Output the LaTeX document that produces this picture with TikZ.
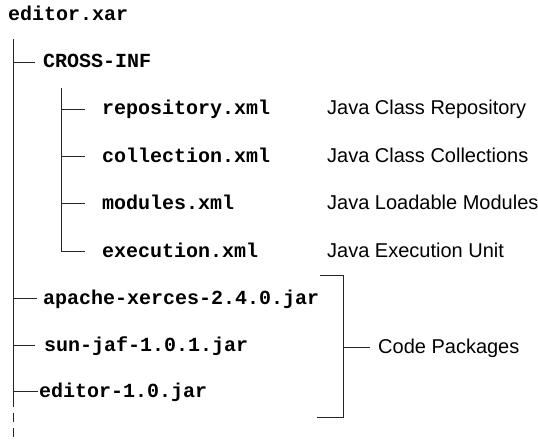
\documentclass[tikz,border=0pt]{standalone}
\usepackage{fontspec}
\setmainfont{Liberation Sans}
\setmonofont{Liberation Mono}
\begin{document}
\begin{tikzpicture}[x=1pt,y=-1pt,
  file/.style={anchor=base west,inner sep=0pt,font=\fontsize{20}{24}\selectfont\ttfamily\bfseries},
  note/.style={anchor=base west,inner sep=0pt,font=\fontsize{20}{24}\selectfont},
  tree/.style={draw=black!85,line width=0.9pt}]
\useasboundingbox (0,0) rectangle (538,441);

% archive and its entries (baseline = row + 6)
\node[file] (xar)   at (8,21)    {editor.xar};
\node[file] (cross) at (43,68)   {CROSS-INF};
\node[file] (repo)  at (102,115) {repository.xml};
\node[file] (coll)  at (102,162) {collection.xml};
\node[file] (mods)  at (102,209) {modules.xml};
\node[file] (exec)  at (102,257) {execution.xml};
\node[file] (xerc)  at (43,304)  {apache-xerces-2.4.0.jar};
\node[file] (jaf)   at (44,351)  {sun-jaf-1.0.1.jar};
\node[file] (ejar)  at (39,397)  {editor-1.0.jar};

% descriptions
\node[note] (drepo) at (327,115) {Java Class Repository};
\node[note] (dcoll) at (327,162) {Java Class Collections};
\node[note] (dmods) at (327,209) {Java Loadable Modules};
\node[note] (dexec) at (327,257) {Java Execution Unit};
\node[note] (dcode) at (378,353) {Code Packages};

% trunk of the archive
\coordinate (t0) at (13,39);
\coordinate (t1) at (13,400);
\coordinate (t2) at (13,441);
\draw[tree] (t0) -- (t1);
\draw[tree,dash pattern=on 9pt off 6pt] ([yshift=2pt]t1) -- (t2);

\coordinate (bc) at (13,62);
\coordinate (bx) at (13,298);
\coordinate (bj) at (13,345);
\coordinate (be) at (13,391);
\draw[tree] (bc) -- (35,62);
\draw[tree] (bx) -- (37,298);
\draw[tree] (bj) -- (35,345);
\draw[tree] (be) -- (38,391);

% CROSS-INF subtree
\coordinate (s0) at (61,88);
\coordinate (sr) at (61,109);
\coordinate (sc) at (61,156);
\coordinate (sm) at (61,203);
\coordinate (se) at (61,251);
\draw[tree] (s0) -- (se) -- (85,251);
\draw[tree] (sr) -- (85,109);
\draw[tree] (sc) -- (85,156);
\draw[tree] (sm) -- (85,203);

% bracket grouping the jar files
\coordinate (k0) at (320,275);
\coordinate (k1) at (343,275);
\coordinate (k2) at (343,417);
\coordinate (k3) at (317,417);
\coordinate (km) at (343,347);
\draw[tree] (k0) -- (k1) -- (k2) -- (k3);
\draw[tree] (km) -- (370,347);
\end{tikzpicture}
\end{document}
